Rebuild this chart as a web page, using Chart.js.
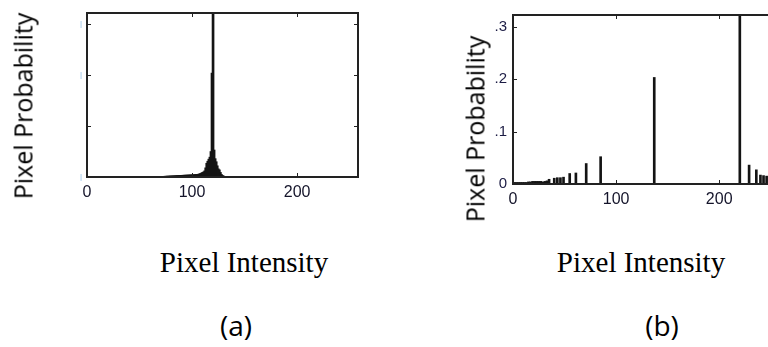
<!DOCTYPE html>
<html>
<head>
<meta charset="utf-8">
<script src="https://cdn.jsdelivr.net/npm/chart.js@4.4.0/dist/chart.umd.min.js"></script>
<style>
  body { margin: 0; width: 768px; height: 347px; overflow: hidden; background: #fff; position: relative; }
  canvas { position: absolute; }
  #chartA { left: 0; top: 0; }
  #chartB { left: 384px; top: 0; }
  .ytitle { position: absolute; font-family: "Open Sans"; font-size: 25px; line-height: 25px; white-space: nowrap; color: #000;
            transform: translate(-50%, -50%) rotate(-90deg); }
  .xtitle { position: absolute; font-family: "Liberation Serif"; font-size: 29px; line-height: 29px; white-space: nowrap; color: #000;
            transform: translateX(-50%); }
  .cap { position: absolute; font-family: "Open Sans"; font-size: 28px; line-height: 28px; white-space: nowrap; color: #000;
         transform: translateX(-50%); }
</style>
</head>
<body>
<canvas id="chartA" width="384" height="215"></canvas>
<canvas id="chartB" width="400" height="220"></canvas>

<div class="ytitle" style="left:23px; top:106px;">Pixel Probability</div>
<div class="ytitle" style="left:475px; top:129px;">Pixel Probability</div>
<div class="xtitle" style="left:244px; top:248px;">Pixel Intensity</div>
<div class="xtitle" style="left:641px; top:248px;">Pixel Intensity</div>
<div class="cap" style="left:236px; top:311px;">(a)</div>
<div class="cap" style="left:662px; top:311px;">(b)</div>

<script>
// (a) histogram
const leftIntensity = [55,56,57,58,59,60,61,62,63,64,
  65,66,67,68,69,70,71,72,73,74,
  75,76,77,78,79,80,81,82,83,84,
  85,86,87,88,89,90,91,92,93,94,
  95,96,97,98,99,100,101,102,103,104,
  105,106,107,108,109,
  110,111,112,113,114,115,116,117,118,119,
  120,121,122,123,124,125,126,127,128,129,130,131]
const leftProb = [0.0005,0.0005,0.0006,0.0006,0.0007,0.0007,0.0008,0.0008,0.0009,0.0009,
  0.001,0.001,0.0011,0.0011,0.0012,0.0012,0.0013,0.0013,0.0014,0.0014,
  0.0016,0.0017,0.0018,0.0019,0.002,0.0021,0.0022,0.0023,0.0024,0.0025,
  0.0027,0.0028,0.003,0.0031,0.0032,0.0033,0.0034,0.0035,0.0036,0.0037,
  0.0038,0.0039,0.004,0.0041,0.0042,0.0043,0.0044,0.0046,0.0048,0.005,
  0.0052,0.0055,0.006,0.0068,0.0078,
  0.009,0.01,0.012,0.018,0.027,0.031,0.035,0.039,0.05,0.204,
  0.62,0.053,0.036,0.03,0.022,0.016,0.014,0.009,0.005,0.003,0.002,0.001]

// (b) histogram
const rightIntensity = [1,3,5,7,9,11,13,15,17,19,21,23,25,27,29,31,33,
  35,40,43,46,49,55,61,71,85,137,220,229,236,240,243,246,249,252]
const rightProb = [0.003,0.003,0.003,0.003,0.003,0.003,0.003,0.004,0.004,0.005,0.005,0.005,0.005,0.005,0.004,0.005,0.006,
  0.009,0.011,0.012,0.012,0.013,0.02,0.021,0.039,0.052,0.203,0.6,0.036,0.027,0.017,0.016,0.015,0.012,0.01]

const xTicks = [0, 100, 200]
const yTicks = [0, 0.1, 0.2, 0.3]
const leftYTickText = ['|', '', '|', '|']
const rightYTickText = ['0', '.1', '.2', '.3']

// box round the plot plus small inward tick marks
const framePlugin = {
  id: 'frame',
  afterDraw(chart) {
    const ctx = chart.ctx
    const a = chart.chartArea
    const sx = chart.scales.x
    const sy = chart.scales.y
    ctx.save()
    ctx.strokeStyle = '#222'
    ctx.lineWidth = 2
    ctx.strokeRect(a.left, a.top, a.right - a.left, a.bottom - a.top)
    ctx.lineWidth = 1
    ctx.beginPath()
    xTicks.forEach(v => {
      if (v === 0) return
      const px = Math.round(sx.getPixelForValue(v)) + 0.5
      ctx.moveTo(px, a.bottom); ctx.lineTo(px, a.bottom - 4)
      ctx.moveTo(px, a.top); ctx.lineTo(px, a.top + 4)
    })
    yTicks.forEach(v => {
      if (v === 0) return
      const py = Math.round(sy.getPixelForValue(v)) + 0.5
      ctx.moveTo(a.left, py); ctx.lineTo(a.left + 4, py)
      ctx.moveTo(a.right, py); ctx.lineTo(a.right - 4, py)
    })
    ctx.stroke()
    ctx.restore()
  }
}

function makeChart(id, xs, ys, yText, yColor, ySize, yPad, yWidth, xHeight, pad) {
  return new Chart(document.getElementById(id), {
    type: 'bar',
    data: {
      datasets: [{
        data: xs.map((x, i) => ({ x: x, y: ys[i] })),
        backgroundColor: '#141414',
        borderWidth: 0,
        barThickness: 2
      }]
    },
    options: {
      responsive: false,
      animation: false,
      layout: { padding: pad },
      plugins: { legend: { display: false }, tooltip: { enabled: false } },
      scales: {
        x: {
          type: 'linear',
          offset: false,
          min: 0,
          max: 258,
          grid: { display: false, drawTicks: false },
          border: { display: false },
          afterBuildTicks: s => { s.ticks = xTicks.map(v => ({ value: v })) },
          afterFit: s => { s.height = xHeight },
          ticks: {
            maxRotation: 0,
            padding: 6,
            color: '#14142a',
            font: { family: 'Liberation Sans', size: 16 }
          }
        },
        y: {
          min: 0,
          max: 0.322,
          grid: { display: false, drawTicks: false },
          border: { display: false },
          afterBuildTicks: s => { s.ticks = yTicks.map(v => ({ value: v })) },
          afterFit: s => { s.width = yWidth },
          ticks: {
            padding: yPad,
            color: yColor,
            font: { family: 'Liberation Sans', size: ySize },
            callback: (v, i) => yText[i]
          }
        }
      }
    },
    plugins: [framePlugin]
  })
}

makeChart('chartA', leftIntensity, leftProb, leftYTickText, '#8bbbe6', 8, 5, 87, 38, { top: 13, right: 26, left: 0, bottom: 0 })
makeChart('chartB', rightIntensity, rightProb, rightYTickText, '#1c1c44', 15, 6, 129, 36, { top: 15, right: 5, left: 0, bottom: 0 })
</script>
</body>
</html>
